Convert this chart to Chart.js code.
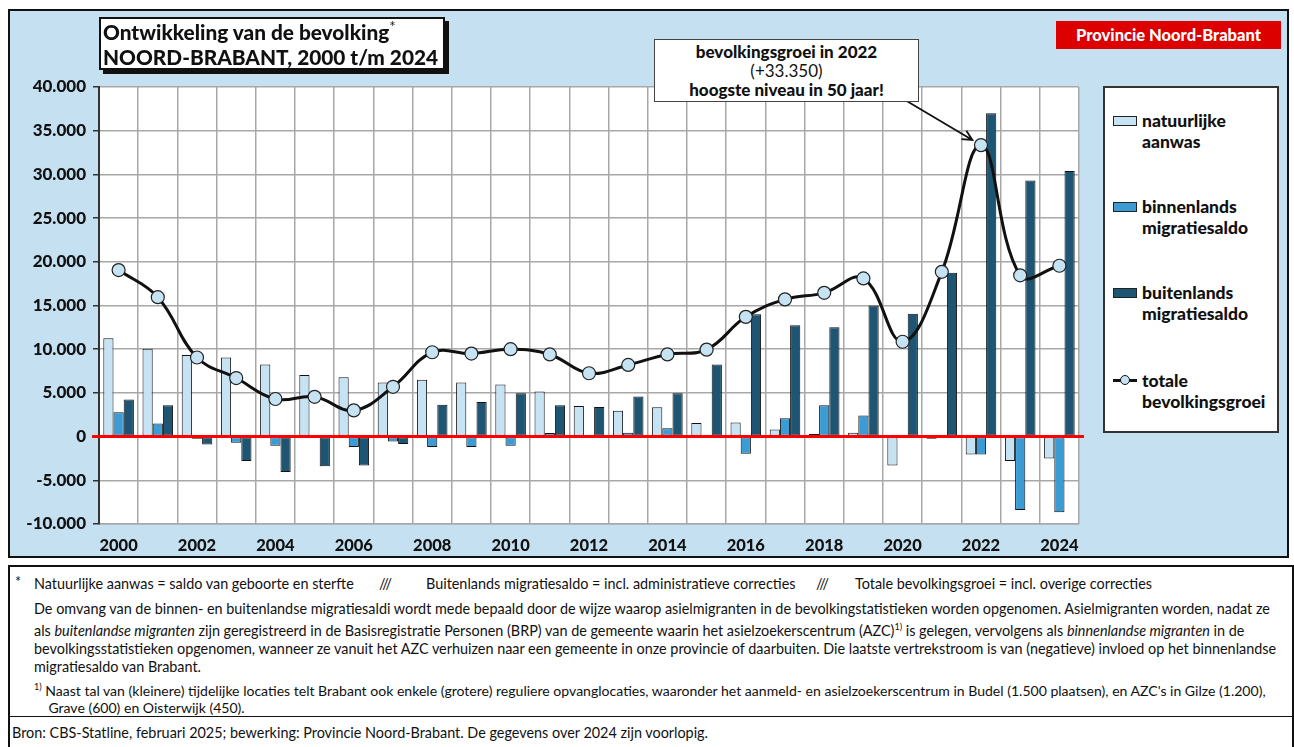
<!DOCTYPE html>
<html>
<head>
<meta charset="utf-8">
<script src="https://cdn.jsdelivr.net/npm/chart.js@4/dist/chart.umd.min.js"></script>
<style>
  body { margin: 0; width: 1294px; height: 747px; background: #fff; position: relative; overflow: hidden; font-family: Lato, "DejaVu Sans", sans-serif; color: #111; }
  #panel { position: absolute; left: 8px; top: 9px; width: 1277px; height: 545px; border: 2px solid #111; background: #c5e1f1; }
  #chart { position: absolute; left: 0; top: 0; }
  .box { position: absolute; background: #fff; }
  #title { left: 99px; top: 17px; width: 340px; height: 49px; border: 2px solid #111; box-shadow: 4px 4px 0 #111; font-weight: 900; font-size: 20.8px; line-height: 25px; padding: 0 0 0 2px; }
  #title sup { font-weight: 400; font-size: 15px; line-height: 0; }
  #brand { position: absolute; left: 1056px; top: 21px; width: 225px; height: 28px; background: #dd0000; color: #fff; font-weight: 900; font-size: 16.5px; line-height: 28px; text-align: center; }
  #note { left: 654px; top: 39px; width: 263px; height: 59px; border: 1.5px solid #444; text-align: center; font-size: 17px; line-height: 19px; padding-top: 2px; box-sizing: content-box; }
  #note b { font-weight: 900; }
  #legend { left: 1103px; top: 86px; width: 172px; height: 343px; border: 2px solid #333; }
  .item { position: absolute; left: 8px; font-weight: 900; font-size: 17.5px; line-height: 21px; }
  .sw { position: absolute; left: 0; top: 6px; width: 22px; height: 8px; border: 1px solid #222; }
  .ln { position: absolute; left: 0; top: 9px; width: 24px; height: 3px; background: #111; }
  .ln i { position: absolute; left: 7px; top: -4px; width: 8px; height: 8px; border-radius: 50%; border: 1px solid #111; background: #c6e3f4; }
  .item span { display: block; margin-left: 29px; }
  #foot { left: 8px; top: 565px; width: 1282px; height: 200px; border: 2px solid #111; }
  #divider { position: absolute; left: 0; right: 0; top: 149px; border-top: 1.5px solid #111; }
  .t { position: absolute; font-size: 14.4px; line-height: 18px; white-space: nowrap; color: #111; }
  .t sup { font-size: 9px; }
</style>
</head>
<body>
<div id="panel"><canvas id="chart" width="1277" height="545"></canvas></div>
<div id="title" class="box">Ontwikkeling van de bevolking<sup>*</sup><br>NOORD-BRABANT, 2000 t/m 2024</div>
<div id="brand">Provincie Noord-Brabant</div>
<div id="note" class="box"><b>bevolkingsgroei in 2022</b><br>(+33.350)<br><b>hoogste niveau in 50 jaar!</b></div>
<div id="legend" class="box"></div>
<div id="foot" class="box">
  <div class="t" style="left:5px;top:6px">*</div>
  <div class="t" style="left:24px;top:8px">Natuurlijke aanwas = saldo van geboorte en sterfte</div>
  <div class="t" style="left:369px;top:8px">///</div>
  <div class="t" style="left:416px;top:8px">Buitenlands migratiesaldo = incl. administratieve correcties</div>
  <div class="t" style="left:806px;top:8px">///</div>
  <div class="t" style="left:845px;top:8px">Totale bevolkingsgroei = incl. overige correcties</div>
  <div class="t" style="left:24px;top:33px">De omvang van de binnen- en buitenlandse migratiesaldi wordt mede bepaald door de wijze waarop asielmigranten in de bevolkingstatistieken worden opgenomen. Asielmigranten worden, nadat ze<br>als <i>buitenlandse migranten</i> zijn geregistreerd in de Basisregistratie Personen (BRP) van de gemeente waarin het asielzoekerscentrum (AZC)<sup>1)</sup> is gelegen, vervolgens als <i>binnenlandse migranten</i> in de<br>bevolkingsstatistieken opgenomen, wanneer ze vanuit het AZC verhuizen naar een gemeente in onze provincie of daarbuiten. Die laatste vertrekstroom is van (negatieve) invloed op het binnenlandse<br>migratiesaldo van Brabant.</div>
  <div class="t" style="left:24px;top:111px;line-height:17px;font-size:14.05px"><sup>1)</sup> Naast tal van (kleinere) tijdelijke locaties telt Brabant ook enkele (grotere) reguliere opvanglocaties, waaronder het aanmeld- en asielzoekerscentrum in Budel (1.500 plaatsen), en AZC's in Gilze (1.200),<br>&nbsp;&nbsp;&nbsp;&nbsp;Grave (600) en Oisterwijk (450).</div>
  <div id="divider"></div>
  <div class="t" style="left:2px;top:157px">Bron: CBS-Statline, februari 2025; bewerking: Provincie Noord-Brabant. De gegevens over 2024 zijn voorlopig.</div>
</div>
<script>
// jaren 2000 t/m 2024
const jaren = ["2000","2001","2002","2003","2004","2005","2006","2007","2008","2009","2010","2011","2012",
  "2013","2014","2015","2016","2017","2018","2019","2020","2021","2022","2023","2024"];
const natuurlijk = [11250, 10050, 9350, 9050, 8250, 7050, 6800, 6200, 6500, 6200, 5950, 5150, 3500,
  2950, 3350, 1550, 1600, 800, 300, 450, -3300, -250, -2050, -2800, -2500];
const binnenlands = [2800, 1500, -250, -700, -1050, -50, -1200, -550, -1200, -1200, -1050, 400, 100,
  450, 950, 0, -1950, 2100, 3600, 2400, 0, 0, -2050, -8400, -8650];
const buitenlands = [4250, 3600, -900, -2800, -4050, -3400, -3300, -850, 3650, 3950, 4950, 3600, 3400,
  4600, 4950, 8250, 14000, 12750, 12500, 15000, 14050, 18750, 37000, 29300, 30400];
const totaal = [19050, 15950, 9050, 6700, 4300, 4550, 3000, 5700, 9650, 9500, 10000, 9400, 7250,
  8200, 9400, 9950, 13700, 15700, 16450, 18100, 10850, 18850, 33350, 18450, 19550];

const reeksen = [["natuurlijke", "aanwas"], ["binnenlands", "migratiesaldo"], ["buitenlands", "migratiesaldo"], ["totale", "bevolkingsgroei"]];
const kleuren = ["#c6e3f4", "#3a9bd5", "#1d5572"];

const fmt = v => (v < 0 ? "-" : "") + Math.abs(v).toString().replace(/\B(?=(\d{3})+(?!\d))/g, ".");

// legenda
const legend = document.getElementById("legend");
const tops = [22, 108, 194, 282];
reeksen.forEach((r, i) => {
  const d = document.createElement("div");
  d.className = "item";
  d.style.top = tops[i] + "px";
  const mark = i < 3 ? `<div class="sw" style="background:${kleuren[i]}"></div>` : `<div class="ln"><i></i></div>`;
  d.innerHTML = mark + `<span>${r[0]}<br>${r[1]}</span>`;
  legend.appendChild(d);
});

const nulLijn = {
  id: "nulLijn",
  afterDatasetsDraw(chart) {
    const { ctx, chartArea, scales } = chart;
    const y = scales.y.getPixelForValue(0);
    ctx.save();
    ctx.strokeStyle = "#ff0000";
    ctx.lineWidth = 3;
    ctx.beginPath();
    ctx.moveTo(chartArea.left - 7, y);
    ctx.lineTo(chartArea.right + 5, y);
    ctx.stroke();
    // pijl naar 2022
    const p = chart.getDatasetMeta(3).data[22];
    const sx = 895, sy = 89;
    const ang = Math.atan2(p.y - sy, p.x - sx);
    const ex = p.x - Math.cos(ang) * 10, ey = p.y - Math.sin(ang) * 10;
    ctx.strokeStyle = "#111";
    ctx.lineWidth = 1.8;
    ctx.beginPath();
    ctx.moveTo(sx, sy);
    ctx.lineTo(ex, ey);
    ctx.moveTo(ex - 11 * Math.cos(ang - 0.45), ey - 11 * Math.sin(ang - 0.45));
    ctx.lineTo(ex, ey);
    ctx.lineTo(ex - 11 * Math.cos(ang + 0.45), ey - 11 * Math.sin(ang + 0.45));
    ctx.stroke();
    ctx.restore();
  }
};

const plotWit = {
  id: "plotWit",
  beforeDraw(chart) {
    const { ctx, chartArea: a } = chart;
    ctx.save();
    ctx.fillStyle = "#fff";
    ctx.fillRect(a.left, a.top, a.right - a.left, a.bottom - a.top);
    ctx.restore();
  }
};

const barStijl = { borderColor: "#111", borderWidth: 1, borderSkipped: false, categoryPercentage: 0.78, barPercentage: 1, order: 2 };

new Chart(document.getElementById("chart"), {
  type: "bar",
  data: {
    labels: jaren,
    datasets: [
      { label: "natuurlijke aanwas", data: natuurlijk, backgroundColor: kleuren[0], ...barStijl },
      { label: "binnenlands migratiesaldo", data: binnenlands, backgroundColor: kleuren[1], ...barStijl },
      { label: "buitenlands migratiesaldo", data: buitenlands, backgroundColor: kleuren[2], ...barStijl },
      {
        type: "line", label: "totale bevolkingsgroei", data: totaal, order: 0,
        borderColor: "#111", borderWidth: 3, tension: 0.4,
        pointRadius: 6.5, pointBackgroundColor: "#c6e3f4", pointBorderColor: "#222", pointBorderWidth: 1.2
      }
    ]
  },
  options: {
    responsive: false,
    animation: false,
    layout: { padding: { top: 76, right: 208, left: 0, bottom: 0 } },
    plugins: { legend: { display: false }, tooltip: { enabled: false } },
    scales: {
      x: {
        afterFit: s => { s.height = 32; },
        grid: { color: "#a8a8a8", lineWidth: 1.5, drawTicks: false, offset: true },
        border: { color: "#a8a8a8", width: 1.5 },
        ticks: {
          autoSkip: false, maxRotation: 0, padding: 12, color: "#111",
          font: { family: "Lato", weight: "900", size: 16.5 },
          callback: (v, i) => (i % 2 === 0 ? jaren[i] : "")
        }
      },
      y: {
        min: -10000, max: 40000,
        afterFit: s => { s.width = 89; },
        grid: {
          color: c => (c.tick.value % 5000 === 0 ? "#a8a8a8" : "#dedede"),
          lineWidth: 1.5,
          tickColor: "#333", tickLength: 6
        },
        border: { color: "#333", width: 2 },
        ticks: {
          stepSize: 2500, padding: 7, color: "#111",
          font: { family: "Lato", weight: "900", size: 17 },
          callback: v => (v % 5000 === 0 ? fmt(v) : "")
        }
      }
    }
  },
  plugins: [plotWit, nulLijn]
});
</script>
</body>
</html>
